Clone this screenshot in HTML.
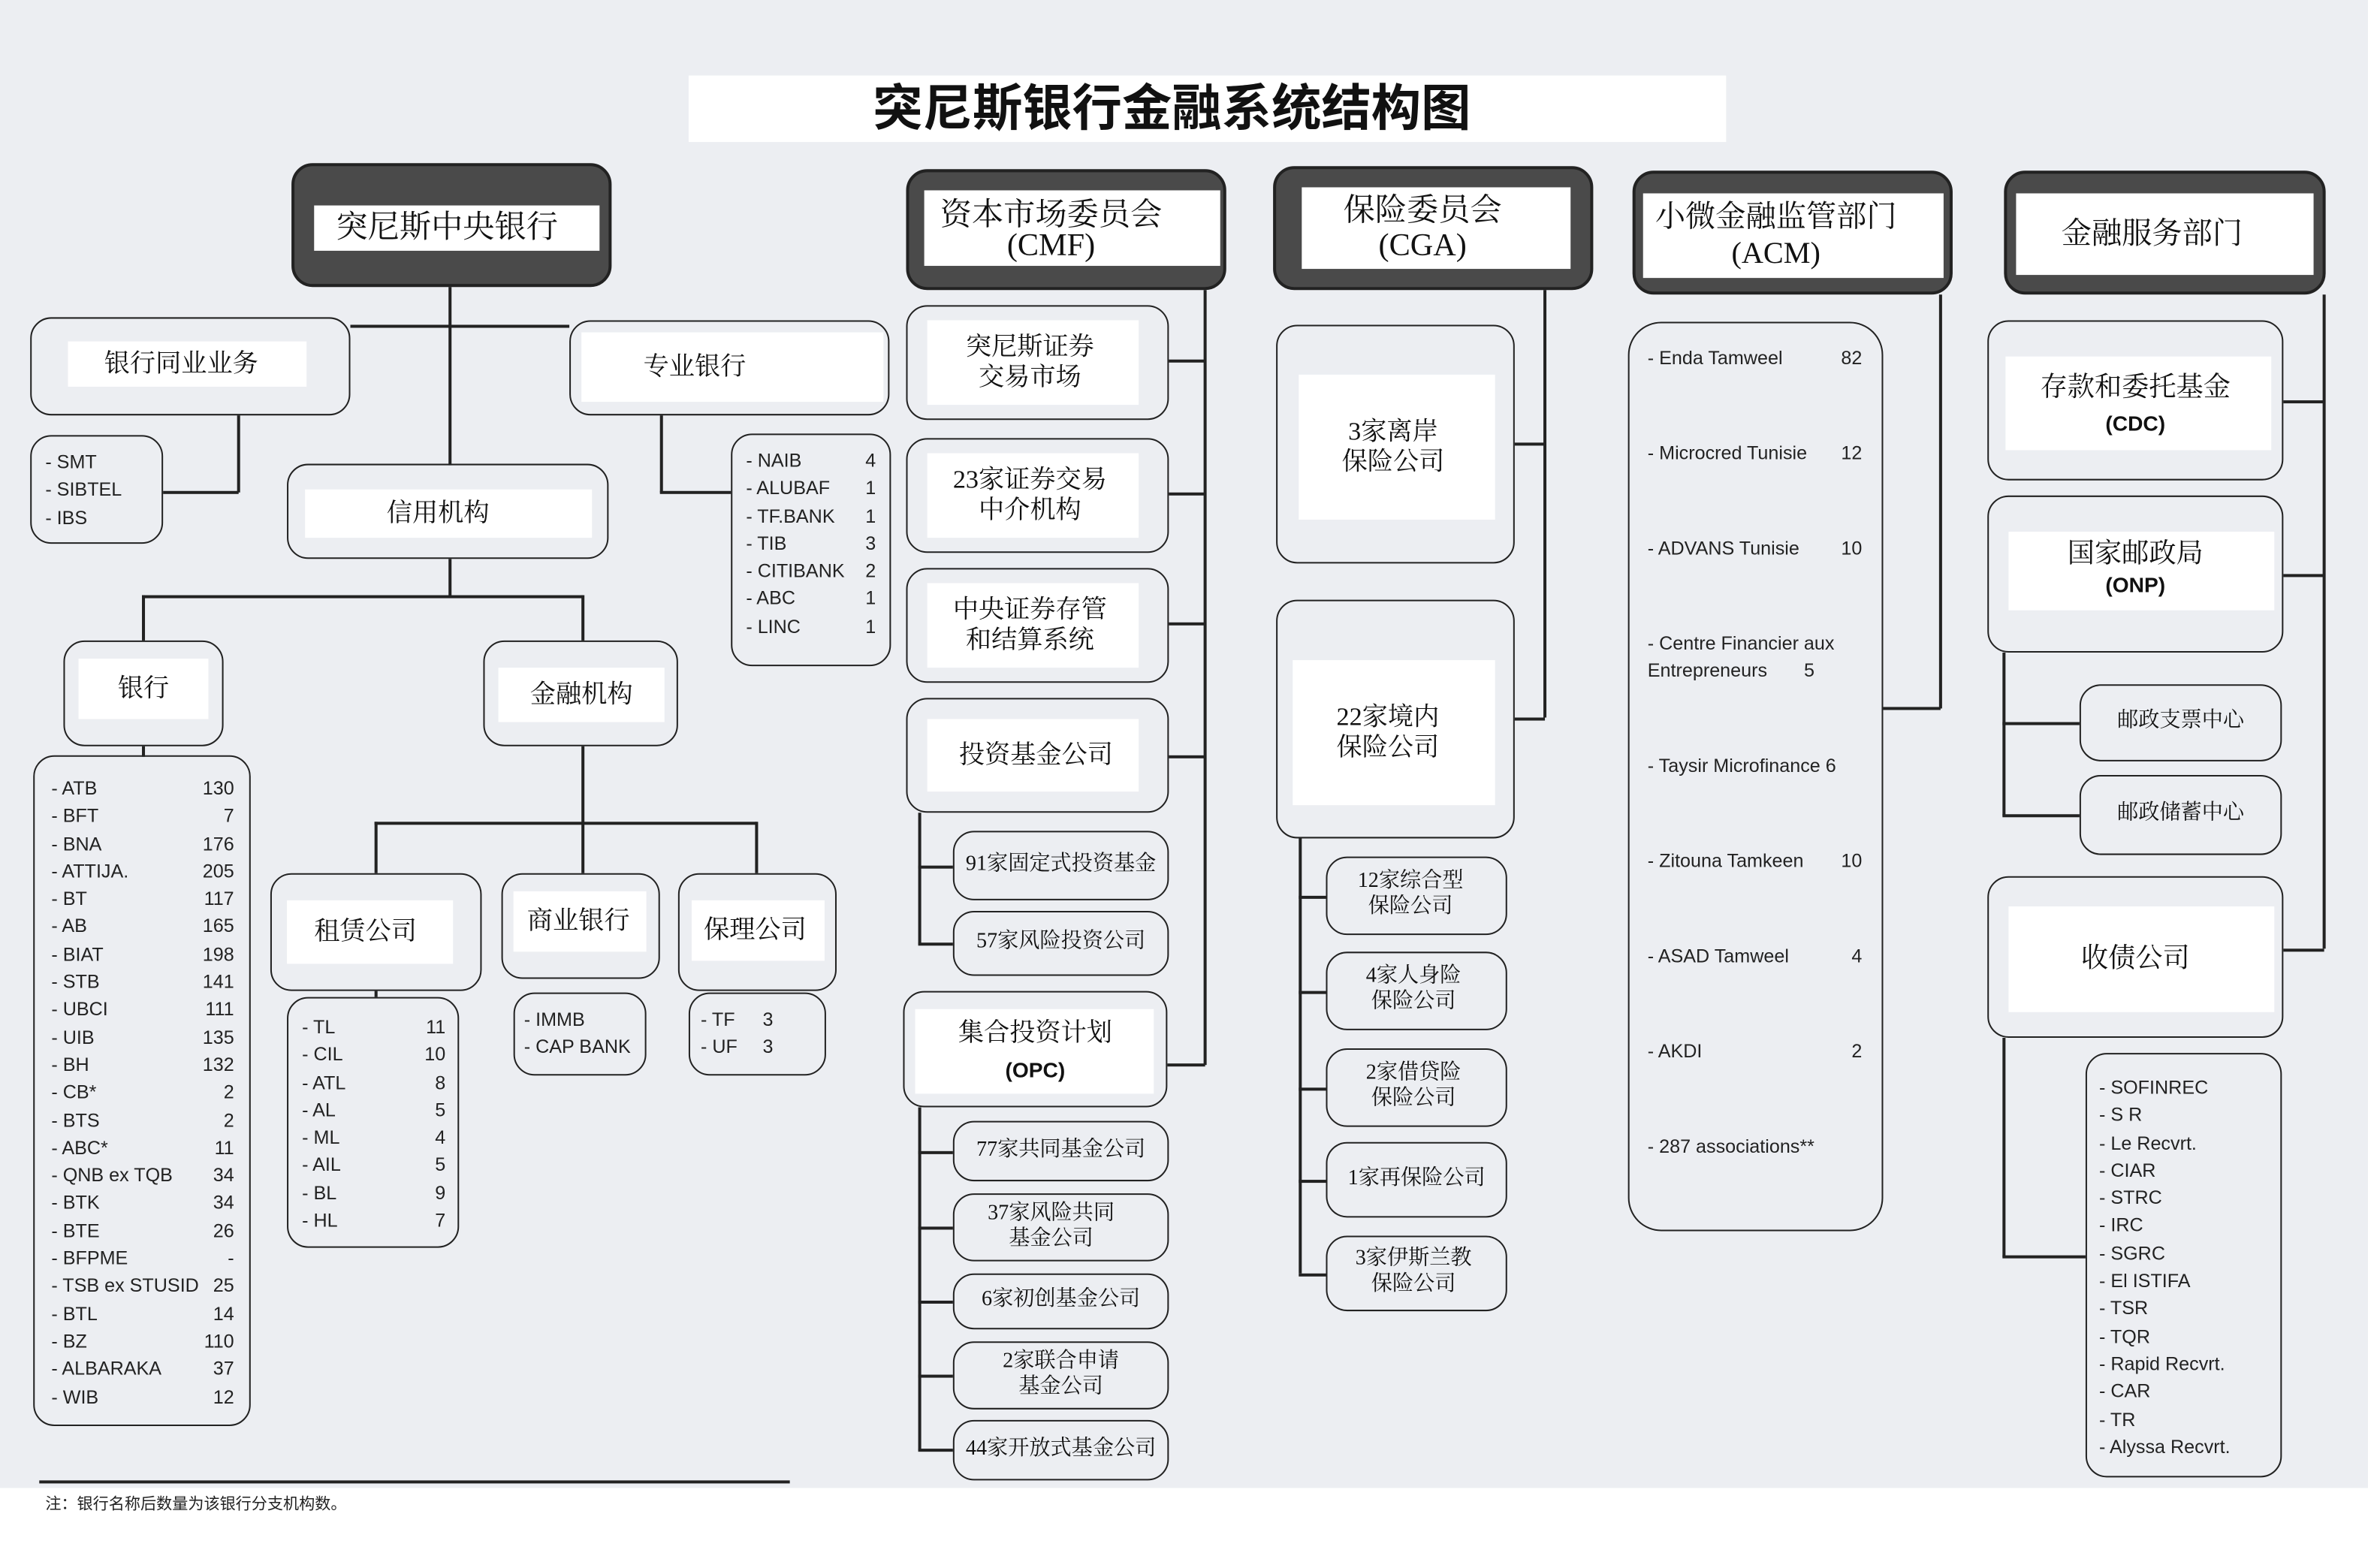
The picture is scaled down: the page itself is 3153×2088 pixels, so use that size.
<!DOCTYPE html>
<html><head><meta charset="utf-8">
<style>
html,body{margin:0;padding:0;width:3153px;height:2088px;overflow:hidden;background:#fff}
#s{position:absolute;left:0;top:0;width:1568px;height:1038px;transform-origin:0 0;transform:scale(2.0108,2.0116);background:#fff}
#pg{position:absolute;left:0;top:0;width:1568px;height:985px;background:#eceef2}
.b{position:absolute;border:1.5px solid #222;border-radius:14px;box-sizing:border-box}
.h{position:absolute;border-radius:14px;background:#4a4a4a;border:2px solid #222;box-sizing:border-box}
.w{position:absolute;background:#fff}
.t{position:absolute;display:flex;align-items:center;justify-content:center;text-align:center;font-family:"Liberation Serif","Noto Serif CJK SC",serif;color:#111;line-height:1.2}
.l{position:absolute;background:#222}
.li{position:absolute;font-family:"Liberation Sans","Noto Sans CJK SC",sans-serif;font-size:12.5px;color:#222;line-height:18.3px}
.li div{display:flex;justify-content:space-between}
</style></head><body><div id="s">
<div id="pg"></div>
<!-- title -->
<div class="w" style="left:456px;top:50px;width:687px;height:44px"></div>
<div class="t" style="left:456px;top:50px;width:640px;height:44px;font-family:'Liberation Sans','Noto Sans CJK SC',sans-serif;font-weight:bold;font-size:33px">突尼斯银行金融系统结构图</div>

<!-- headers -->
<div class="h" style="left:193px;top:108px;width:212px;height:82px"></div>
<div class="w" style="left:208px;top:136px;width:189px;height:30px"></div>
<div class="t" style="left:208px;top:136px;width:176px;height:30px;font-size:21px">突尼斯中央银行</div>

<div class="h" style="left:600px;top:112px;width:212px;height:80px"></div>
<div class="w" style="left:612px;top:126px;width:196px;height:50px"></div>
<div class="t" style="left:612px;top:128px;width:168px;height:50px;font-size:21px;line-height:0.95">资本市场委员会<br>(CMF)</div>

<div class="h" style="left:843px;top:110px;width:212px;height:82px"></div>
<div class="w" style="left:862px;top:124px;width:178px;height:54px"></div>
<div class="t" style="left:862px;top:124px;width:160px;height:54px;font-size:21px;line-height:1.1">保险委员会<br>(CGA)</div>

<div class="h" style="left:1081px;top:113px;width:212px;height:82px"></div>
<div class="w" style="left:1088px;top:128px;width:199px;height:56px"></div>
<div class="t" style="left:1088px;top:128px;width:176px;height:56px;font-size:20px;line-height:1.2">小微金融监管部门<br>(ACM)</div>

<div class="h" style="left:1327px;top:113px;width:213px;height:82px"></div>
<div class="w" style="left:1335px;top:128px;width:197px;height:54px"></div>
<div class="t" style="left:1335px;top:128px;width:180px;height:54px;font-size:20px">金融服务部门</div>

<!-- column 1 lines -->
<div class="l" style="left:297px;top:190px;width:1.5px;height:118px"></div>
<div class="l" style="left:232px;top:215px;width:145px;height:1.5px"></div>
<div class="l" style="left:157px;top:275px;width:1.5px;height:51px"></div>
<div class="l" style="left:108px;top:325px;width:50px;height:1.5px"></div>
<div class="l" style="left:437px;top:275px;width:1.5px;height:51px"></div>
<div class="l" style="left:437px;top:325px;width:47px;height:1.5px"></div>
<div class="l" style="left:297px;top:370px;width:1.5px;height:25px"></div>
<div class="l" style="left:94px;top:394px;width:292px;height:1.5px"></div>
<div class="l" style="left:94px;top:394px;width:1.5px;height:30px"></div>
<div class="l" style="left:385px;top:394px;width:1.5px;height:30px"></div>
<div class="l" style="left:94px;top:494px;width:1.5px;height:7px"></div>
<div class="l" style="left:385px;top:494px;width:1.5px;height:51px"></div>
<div class="l" style="left:248px;top:544px;width:253px;height:1.5px"></div>
<div class="l" style="left:248px;top:544px;width:1.5px;height:34px"></div>
<div class="l" style="left:385px;top:544px;width:1.5px;height:34px"></div>
<div class="l" style="left:500px;top:544px;width:1.5px;height:34px"></div>

<div class="b" style="left:20px;top:210px;width:212px;height:65px"></div>
<div class="w" style="left:45px;top:226px;width:158px;height:30px"></div>
<div class="t" style="left:45px;top:226px;width:150px;height:30px;font-size:17px">银行同业业务</div>
<div class="b" style="left:377px;top:212px;width:212px;height:63px"></div>
<div class="w" style="left:385px;top:220px;width:200px;height:46px"></div>
<div class="t" style="left:385px;top:220px;width:150px;height:46px;font-size:17px">专业银行</div>
<div class="b" style="left:20px;top:288px;width:88px;height:72px"></div>
<div class="li" style="left:30px;top:297px;width:70px"><div>- SMT</div><div>- SIBTEL</div><div>- IBS</div></div>
<div class="b" style="left:484px;top:287px;width:106px;height:154px"></div>
<div class="li" style="left:494px;top:296px;width:86px"><div><span>- NAIB</span><span>4</span></div><div><span>- ALUBAF</span><span>1</span></div><div><span>- TF.BANK</span><span>1</span></div><div><span>- TIB</span><span>3</span></div><div><span>- CITIBANK</span><span>2</span></div><div><span>- ABC</span><span>1</span></div><div><span>- LINC</span><span>1</span></div></div>

<div class="b" style="left:190px;top:307px;width:213px;height:63px"></div>
<div class="w" style="left:202px;top:324px;width:190px;height:32px"></div>
<div class="t" style="left:202px;top:324px;width:176px;height:32px;font-size:17px">信用机构</div>
<div class="b" style="left:42px;top:424px;width:106px;height:70px"></div>
<div class="w" style="left:52px;top:436px;width:86px;height:40px"></div>
<div class="t" style="left:52px;top:436px;width:86px;height:40px;font-size:17px">银行</div>
<div class="b" style="left:320px;top:424px;width:129px;height:70px"></div>
<div class="w" style="left:330px;top:442px;width:110px;height:36px"></div>
<div class="t" style="left:330px;top:442px;width:110px;height:36px;font-size:17px">金融机构</div>

<div class="b" style="left:22px;top:500px;width:144px;height:444px"></div>
<div class="li" style="left:34px;top:513px;width:121px"><div><span>- ATB</span><span>130</span></div><div><span>- BFT</span><span>7</span></div><div><span>- BNA</span><span>176</span></div><div><span>- ATTIJA.</span><span>205</span></div><div><span>- BT</span><span>117</span></div><div><span>- AB</span><span>165</span></div><div><span>- BIAT</span><span>198</span></div><div><span>- STB</span><span>141</span></div><div><span>- UBCI</span><span>111</span></div><div><span>- UIB</span><span>135</span></div><div><span>- BH</span><span>132</span></div><div><span>- CB*</span><span>2</span></div><div><span>- BTS</span><span>2</span></div><div><span>- ABC*</span><span>11</span></div><div><span>- QNB ex TQB</span><span>34</span></div><div><span>- BTK</span><span>34</span></div><div><span>- BTE</span><span>26</span></div><div><span>- BFPME</span><span>-</span></div><div><span>- TSB ex STUSID</span><span>25</span></div><div><span>- BTL</span><span>14</span></div><div><span>- BZ</span><span>110</span></div><div><span>- ALBARAKA</span><span>37</span></div><div><span>- WIB</span><span>12</span></div></div>

<div class="b" style="left:179px;top:578px;width:140px;height:78px"></div>
<div class="w" style="left:190px;top:596px;width:110px;height:42px"></div>
<div class="t" style="left:190px;top:596px;width:104px;height:42px;font-size:17px">租赁公司</div>
<div class="b" style="left:332px;top:578px;width:105px;height:70px"></div>
<div class="w" style="left:340px;top:590px;width:88px;height:40px"></div>
<div class="t" style="left:340px;top:590px;width:86px;height:40px;font-size:17px">商业银行</div>
<div class="b" style="left:449px;top:578px;width:105px;height:78px"></div>
<div class="w" style="left:458px;top:596px;width:88px;height:40px"></div>
<div class="t" style="left:458px;top:596px;width:84px;height:40px;font-size:17px">保理公司</div>
<div class="l" style="left:248px;top:656px;width:1.5px;height:4px"></div>
<div class="b" style="left:190px;top:660px;width:114px;height:166px"></div>
<div class="li" style="left:200px;top:671px;width:95px"><div><span>- TL</span><span>11</span></div><div><span>- CIL</span><span>10</span></div><div><span>- ATL</span><span>8</span></div><div><span>- AL</span><span>5</span></div><div><span>- ML</span><span>4</span></div><div><span>- AIL</span><span>5</span></div><div><span>- BL</span><span>9</span></div><div><span>- HL</span><span>7</span></div></div>
<div class="b" style="left:340px;top:657px;width:88px;height:55px"></div>
<div class="li" style="left:347px;top:666px;width:80px"><div>- IMMB</div><div>- CAP BANK</div></div>
<div class="b" style="left:456px;top:657px;width:91px;height:55px"></div>
<div class="li" style="left:464px;top:666px;width:48px"><div><span>- TF</span><span>3</span></div><div><span>- UF</span><span>3</span></div></div>

<!-- CMF column -->
<div class="l" style="left:797px;top:192px;width:1.5px;height:513px"></div>
<div class="l" style="left:774px;top:238px;width:24px;height:1.5px"></div>
<div class="l" style="left:774px;top:326px;width:24px;height:1.5px"></div>
<div class="l" style="left:774px;top:412px;width:24px;height:1.5px"></div>
<div class="l" style="left:774px;top:500px;width:24px;height:1.5px"></div>
<div class="l" style="left:773px;top:704px;width:25px;height:1.5px"></div>
<div class="l" style="left:608px;top:538px;width:1.5px;height:87px"></div>
<div class="l" style="left:608px;top:573px;width:23px;height:1.5px"></div>
<div class="l" style="left:608px;top:624px;width:23px;height:1.5px"></div>
<div class="l" style="left:608px;top:733px;width:1.5px;height:227px"></div>
<div class="l" style="left:608px;top:762px;width:23px;height:1.5px"></div>
<div class="l" style="left:608px;top:812px;width:23px;height:1.5px"></div>
<div class="l" style="left:608px;top:861px;width:23px;height:1.5px"></div>
<div class="l" style="left:608px;top:910px;width:23px;height:1.5px"></div>
<div class="l" style="left:608px;top:959px;width:23px;height:1.5px"></div>

<div class="b" style="left:600px;top:202px;width:174px;height:76px"></div>
<div class="w" style="left:614px;top:212px;width:140px;height:56px"></div>
<div class="t" style="left:600px;top:212px;width:164px;height:56px;font-size:17px">突尼斯证券<br>交易市场</div>
<div class="b" style="left:600px;top:290px;width:174px;height:76px"></div>
<div class="w" style="left:614px;top:300px;width:140px;height:56px"></div>
<div class="t" style="left:600px;top:300px;width:164px;height:56px;font-size:17px">23家证券交易<br>中介机构</div>
<div class="b" style="left:600px;top:376px;width:174px;height:76px"></div>
<div class="w" style="left:614px;top:386px;width:140px;height:56px"></div>
<div class="t" style="left:600px;top:386px;width:164px;height:56px;font-size:17px">中央证券存管<br>和结算系统</div>
<div class="b" style="left:600px;top:462px;width:174px;height:76px"></div>
<div class="w" style="left:614px;top:476px;width:140px;height:48px"></div>
<div class="t" style="left:600px;top:476px;width:172px;height:48px;font-size:17px">投资基金公司</div>
<div class="b" style="left:631px;top:550px;width:143px;height:46px"></div>
<div class="t" style="left:631px;top:550px;width:143px;height:46px;font-size:14px">91家固定式投资基金</div>
<div class="b" style="left:631px;top:603px;width:143px;height:43px"></div>
<div class="t" style="left:631px;top:603px;width:143px;height:43px;font-size:14px">57家风险投资公司</div>
<div class="b" style="left:598px;top:656px;width:175px;height:77px"></div>
<div class="w" style="left:606px;top:668px;width:158px;height:56px"></div>
<div class="t" style="left:598px;top:668px;width:175px;height:56px;font-size:17px;line-height:1.4"><div>集合投资计划<br><b style="font-family:'Liberation Sans',sans-serif;font-size:14px">(OPC)</b></div></div>
<div class="b" style="left:631px;top:742px;width:143px;height:40px"></div>
<div class="t" style="left:631px;top:742px;width:143px;height:40px;font-size:14px">77家共同基金公司</div>
<div class="b" style="left:631px;top:790px;width:143px;height:45px"></div>
<div class="t" style="left:631px;top:790px;width:130px;height:45px;font-size:14px">37家风险共同<br>基金公司</div>
<div class="b" style="left:631px;top:843px;width:143px;height:37px"></div>
<div class="t" style="left:631px;top:843px;width:143px;height:37px;font-size:14px">6家初创基金公司</div>
<div class="b" style="left:631px;top:888px;width:143px;height:45px"></div>
<div class="t" style="left:631px;top:888px;width:143px;height:45px;font-size:14px">2家联合申请<br>基金公司</div>
<div class="b" style="left:631px;top:940px;width:143px;height:40px"></div>
<div class="t" style="left:631px;top:940px;width:143px;height:40px;font-size:14px">44家开放式基金公司</div>

<!-- CGA column -->
<div class="l" style="left:1022px;top:192px;width:1.5px;height:283px"></div>
<div class="l" style="left:1003px;top:293px;width:20px;height:1.5px"></div>
<div class="l" style="left:1003px;top:475px;width:20px;height:1.5px"></div>
<div class="l" style="left:860px;top:555px;width:1.5px;height:288px"></div>
<div class="l" style="left:860px;top:593px;width:18px;height:1.5px"></div>
<div class="l" style="left:860px;top:656px;width:18px;height:1.5px"></div>
<div class="l" style="left:860px;top:720px;width:18px;height:1.5px"></div>
<div class="l" style="left:860px;top:781px;width:18px;height:1.5px"></div>
<div class="l" style="left:860px;top:843px;width:18px;height:1.5px"></div>
<div class="b" style="left:845px;top:215px;width:158px;height:158px"></div>
<div class="w" style="left:860px;top:248px;width:130px;height:96px"></div>
<div class="t" style="left:845px;top:248px;width:155px;height:96px;font-size:17px">3家离岸<br>保险公司</div>
<div class="b" style="left:845px;top:397px;width:158px;height:158px"></div>
<div class="w" style="left:856px;top:437px;width:134px;height:96px"></div>
<div class="t" style="left:845px;top:437px;width:148px;height:96px;font-size:17px">22家境内<br>保险公司</div>
<div class="b" style="left:878px;top:567px;width:120px;height:52px"></div>
<div class="t" style="left:878px;top:567px;width:112px;height:52px;font-size:14px">12家综合型<br>保险公司</div>
<div class="b" style="left:878px;top:630px;width:120px;height:52px"></div>
<div class="t" style="left:878px;top:630px;width:116px;height:52px;font-size:14px">4家人身险<br>保险公司</div>
<div class="b" style="left:878px;top:694px;width:120px;height:52px"></div>
<div class="t" style="left:878px;top:694px;width:116px;height:52px;font-size:14px">2家借贷险<br>保险公司</div>
<div class="b" style="left:878px;top:756px;width:120px;height:50px"></div>
<div class="t" style="left:878px;top:756px;width:120px;height:50px;font-size:14px">1家再保险公司</div>
<div class="b" style="left:878px;top:818px;width:120px;height:50px"></div>
<div class="t" style="left:878px;top:818px;width:116px;height:50px;font-size:14px">3家伊斯兰教<br>保险公司</div>

<!-- ACM -->
<div class="l" style="left:1284px;top:195px;width:1.5px;height:274px"></div>
<div class="l" style="left:1247px;top:468px;width:38px;height:1.5px"></div>
<div class="b" style="left:1078px;top:213px;width:169px;height:602px;border-radius:22px"></div>
<div class="li" style="left:1091px;top:228px;width:142px;line-height:18px">
<div style="height:63px"><span>- Enda Tamweel</span><span>82</span></div>
<div style="height:63px"><span>- Microcred Tunisie</span><span>12</span></div>
<div style="height:63px"><span>- ADVANS Tunisie</span><span>10</span></div>
<div style="height:81px;display:block">- Centre Financier aux<br>Entrepreneurs &nbsp; &nbsp; &nbsp; 5</div>
<div style="height:63px"><span>- Taysir Microfinance 6</span><span></span></div>
<div style="height:63px"><span>- Zitouna Tamkeen</span><span>10</span></div>
<div style="height:63px"><span>- ASAD Tamweel</span><span>4</span></div>
<div style="height:63px"><span>- AKDI</span><span>2</span></div>
<div style="height:30px"><span>- 287 associations**</span><span></span></div>
</div>

<!-- financial services -->
<div class="l" style="left:1538px;top:195px;width:1.5px;height:433px"></div>
<div class="l" style="left:1512px;top:265px;width:27px;height:1.5px"></div>
<div class="l" style="left:1512px;top:380px;width:27px;height:1.5px"></div>
<div class="l" style="left:1512px;top:628px;width:27px;height:1.5px"></div>
<div class="l" style="left:1326px;top:432px;width:1.5px;height:108px"></div>
<div class="l" style="left:1326px;top:478px;width:51px;height:1.5px"></div>
<div class="l" style="left:1326px;top:539px;width:51px;height:1.5px"></div>
<div class="l" style="left:1326px;top:687px;width:1.5px;height:145px"></div>
<div class="l" style="left:1326px;top:831px;width:55px;height:1.5px"></div>
<div class="b" style="left:1316px;top:212px;width:196px;height:106px"></div>
<div class="w" style="left:1328px;top:236px;width:176px;height:62px"></div>
<div class="t" style="left:1316px;top:238px;width:196px;height:60px;font-size:18px;line-height:1.3"><div>存款和委托基金<br><b style="font-family:'Liberation Sans',sans-serif;font-size:14px">(CDC)</b></div></div>
<div class="b" style="left:1316px;top:328px;width:196px;height:104px"></div>
<div class="w" style="left:1330px;top:352px;width:176px;height:52px"></div>
<div class="t" style="left:1316px;top:352px;width:196px;height:50px;font-size:18px;line-height:1.1"><div>国家邮政局<br><b style="font-family:'Liberation Sans',sans-serif;font-size:14px">(ONP)</b></div></div>
<div class="b" style="left:1377px;top:453px;width:134px;height:51px"></div>
<div class="t" style="left:1377px;top:453px;width:134px;height:51px;font-size:14px">邮政支票中心</div>
<div class="b" style="left:1377px;top:513px;width:134px;height:53px"></div>
<div class="t" style="left:1377px;top:513px;width:134px;height:53px;font-size:14px">邮政储蓄中心</div>
<div class="b" style="left:1316px;top:580px;width:196px;height:107px"></div>
<div class="w" style="left:1330px;top:600px;width:176px;height:70px"></div>
<div class="t" style="left:1316px;top:600px;width:196px;height:70px;font-size:18px">收债公司</div>
<div class="b" style="left:1381px;top:697px;width:130px;height:281px"></div>
<div class="li" style="left:1390px;top:711px;width:115px"><div>- SOFINREC</div><div>- S R</div><div>- Le Recvrt.</div><div>- CIAR</div><div>- STRC</div><div>- IRC</div><div>- SGRC</div><div>- El ISTIFA</div><div>- TSR</div><div>- TQR</div><div>- Rapid Recvrt.</div><div>- CAR</div><div>- TR</div><div>- Alyssa Recvrt.</div></div>

<!-- footer -->
<div class="l" style="left:26px;top:980px;width:497px;height:2px"></div>
<div style="position:absolute;left:30px;top:988px;font-family:'Liberation Sans','Noto Sans CJK SC',sans-serif;font-size:10.5px;color:#222">注：银行名称后数量为该银行分支机构数。</div>
</div></body></html>
